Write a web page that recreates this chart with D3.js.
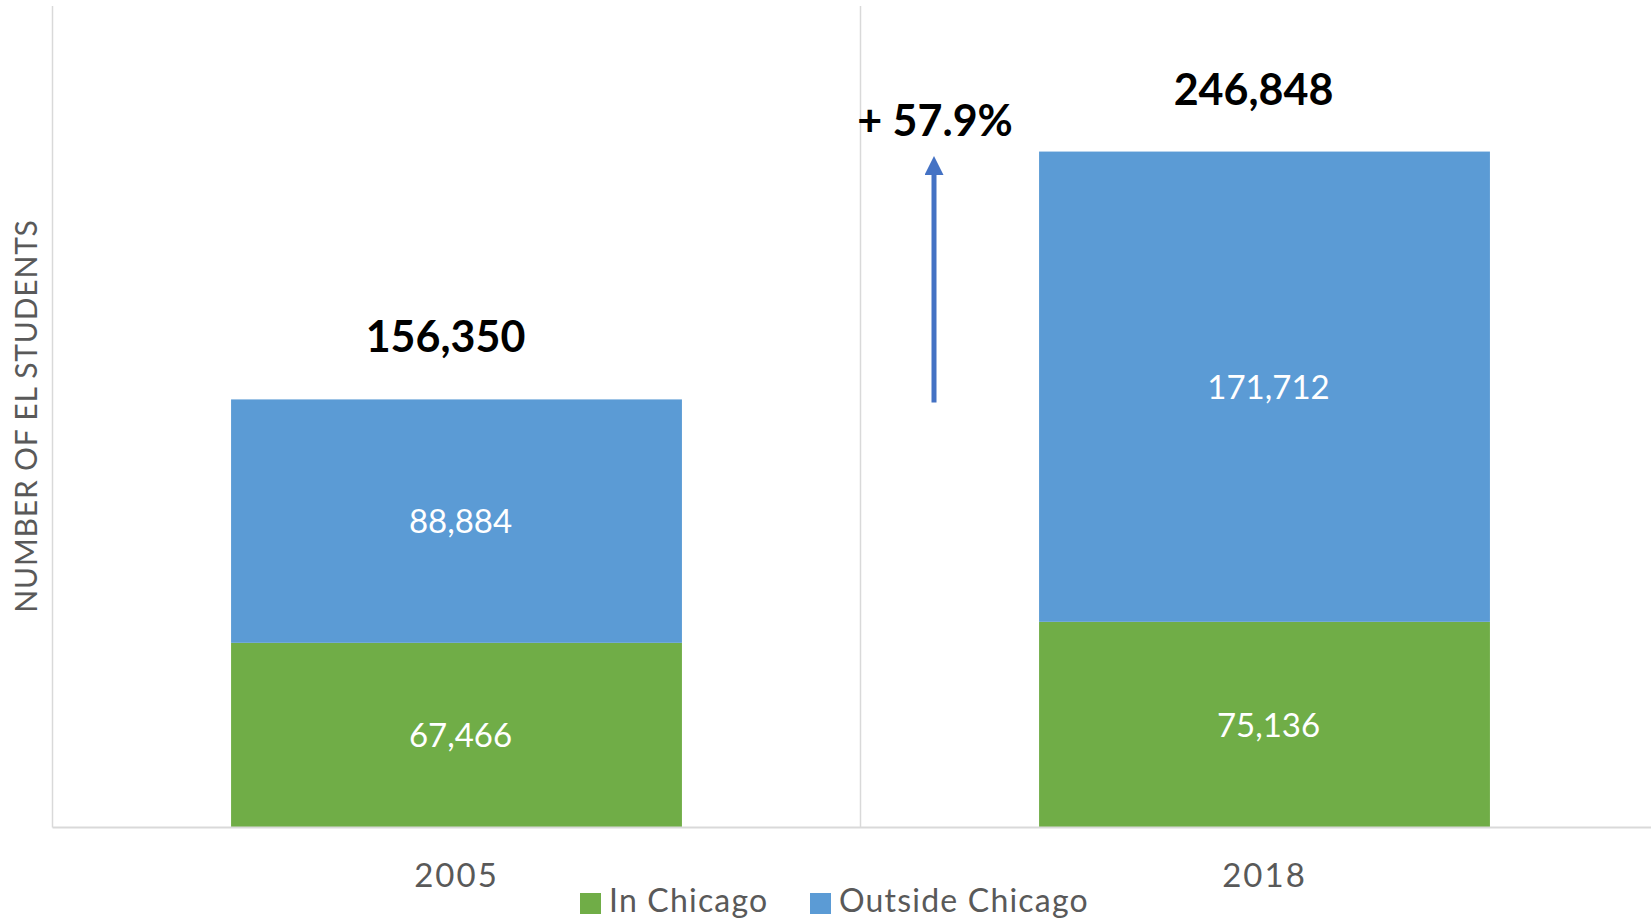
<!DOCTYPE html>
<html>
<head>
<meta charset="utf-8">
<script src="https://cdn.jsdelivr.net/npm/d3@7"></script>
<style>
  html, body { margin: 0; padding: 0; background: #ffffff; }
  svg { display: block; font-family: Lato, "Open Sans", sans-serif; }
</style>
</head>
<body>
<svg id="chart" width="1651" height="918"></svg>
<script>
// ---- data ----
const years = ["2005", "2018"];
const inChicago = [67466, 75136];
const outsideChicago = [88884, 171712];
const totals = [156350, 246848];
const seriesNames = ["In Chicago", "Outside Chicago"];
const changeLabel = "+ 57.9%";
const yTitle = "NUMBER OF EL STUDENTS";

// ---- styles ----
const colors = ["#70AD47", "#5B9BD5"];
const width = 1651, height = 918;
const plot = { left: 52.5, top: 6, bottom: 827.6 };

const svg = d3.select("#chart");

const x = d3.scaleBand()
  .domain(years)
  .range([plot.left, plot.left + 2 * 808])
  .paddingInner(0.442)
  .paddingOuter(0.221);

const y = d3.scaleLinear().domain([0, 300000]).range([plot.bottom, plot.top]);

// stacked data
const rows = years.map((yr, i) => ({ year: yr, "In Chicago": inChicago[i], "Outside Chicago": outsideChicago[i] }));
const stack = d3.stack().keys(seriesNames)(rows);

// divider between categories
svg.append("line")
  .attr("x1", x.step() + plot.left).attr("x2", x.step() + plot.left)
  .attr("y1", plot.top).attr("y2", plot.bottom)
  .attr("stroke", "#d9d9d9").attr("stroke-width", 1.5);

// bars
stack.forEach((layer, li) => {
  svg.append("g").selectAll("rect")
    .data(layer)
    .join("rect")
    .attr("x", d => x(d.data.year))
    .attr("width", x.bandwidth())
    .attr("y", d => y(d[1]))
    .attr("height", d => y(d[0]) - y(d[1]))
    .attr("fill", colors[li]);

  svg.append("g").selectAll("text")
    .data(layer)
    .join("text")
    .attr("x", d => x(d.data.year) + x.bandwidth() / 2 + 4)
    .attr("y", d => (y(d[0]) + y(d[1])) / 2)
    .attr("dy", "0.36em")
    .attr("text-anchor", "middle")
    .attr("fill", "#ffffff")
    .attr("font-size", 33)
    .text(d => d3.format(",")(d[1] - d[0]));
});

// axes lines
svg.append("line")
  .attr("x1", plot.left).attr("x2", plot.left)
  .attr("y1", plot.top).attr("y2", plot.bottom)
  .attr("stroke", "#d9d9d9").attr("stroke-width", 1.5);
svg.append("line")
  .attr("x1", plot.left).attr("x2", width)
  .attr("y1", plot.bottom).attr("y2", plot.bottom)
  .attr("stroke", "#d9d9d9").attr("stroke-width", 2);

// x axis labels
const xAxis = d3.axisBottom(x).tickSize(0).tickPadding(0);
const gx = svg.append("g").attr("transform", `translate(0,${plot.bottom})`).call(xAxis);
gx.select(".domain").remove();
gx.selectAll("text")
  .attr("y", 59)
  .attr("dy", 0)
  .attr("font-family", "Lato, 'Open Sans', sans-serif")
  .attr("font-size", 33)
  .attr("letter-spacing", 2)
  .attr("fill", "#595959");

// totals
svg.append("g").selectAll("text")
  .data(years)
  .join("text")
  .attr("x", (d) => x(d) + x.bandwidth() / 2 - 11)
  .attr("y", (d, i) => y(totals[i]) - 47)
  .attr("text-anchor", "middle")
  .attr("font-size", 43)
  .attr("font-weight", "bold")
  .attr("fill", "#000000")
  .text((d, i) => d3.format(",")(totals[i]));

// change arrow
const arrowX = 934;
svg.append("defs").append("marker")
  .attr("id", "arrowhead")
  .attr("viewBox", "0 0 10 10")
  .attr("refX", 0).attr("refY", 5)
  .attr("markerWidth", 3.8).attr("markerHeight", 3.8)
  .attr("orient", "auto")
  .append("path").attr("d", "M0,0 L10,5 L0,10 Z").attr("fill", "#4472C4");
svg.append("line")
  .attr("x1", arrowX).attr("x2", arrowX)
  .attr("y1", y(totals[0]) + 3).attr("y2", 175)
  .attr("stroke", "#4472C4").attr("stroke-width", 5)
  .attr("marker-end", "url(#arrowhead)");

svg.append("text")
  .attr("x", arrowX + 1)
  .attr("y", 136)
  .attr("text-anchor", "middle")
  .attr("font-size", 43)
  .attr("font-weight", "bold")
  .attr("fill", "#000000")
  .text(changeLabel);

// y title
svg.append("text")
  .attr("transform", `translate(37,${416}) rotate(-90)`)
  .attr("text-anchor", "middle")
  .attr("font-size", 30)
  .attr("letter-spacing", 0.8)
  .attr("fill", "#595959")
  .text(yTitle);

// legend
const legendItems = [
  { name: seriesNames[0], color: colors[0], bx: 580 },
  { name: seriesNames[1], color: colors[1], bx: 810 }
];
const lg = svg.append("g");
legendItems.forEach(it => {
  lg.append("rect").attr("x", it.bx).attr("y", 893).attr("width", 21).attr("height", 21).attr("fill", it.color);
  lg.append("text").attr("x", it.bx + 29).attr("y", 912)
    .attr("font-size", 32).attr("letter-spacing", 1.2).attr("fill", "#595959").text(it.name);
});
</script>
</body>
</html>
